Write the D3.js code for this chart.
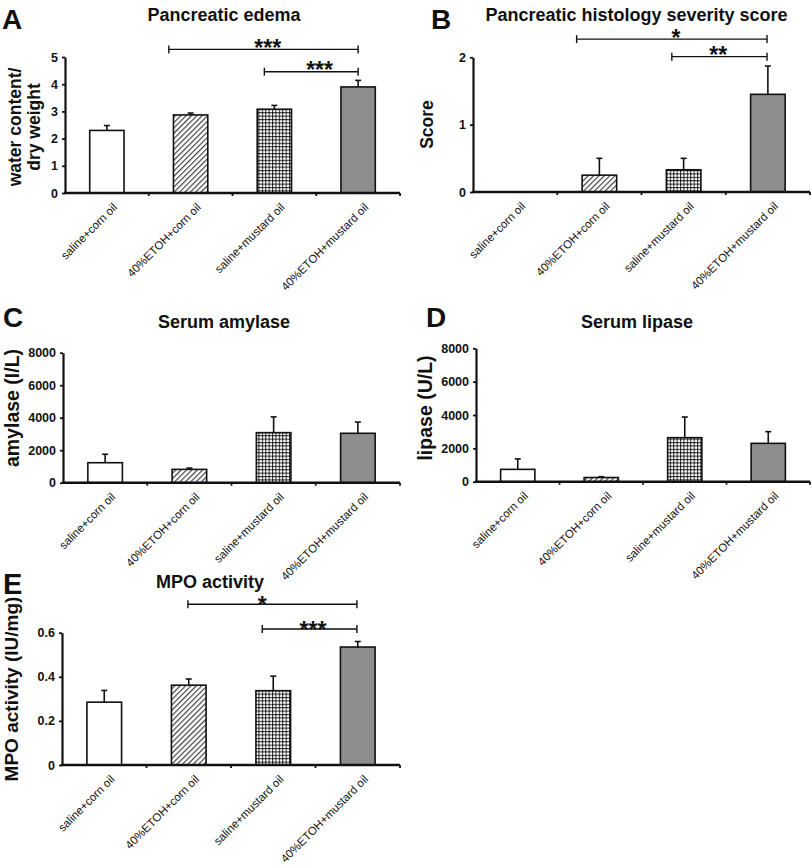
<!DOCTYPE html>
<html>
<head>
<meta charset="utf-8">
<script src="https://cdn.jsdelivr.net/npm/d3@7"></script>
<style>
  html, body { margin: 0; padding: 0; background: #fff; }
  svg { display: block; font-family: "Liberation Sans", Arial, Helvetica, sans-serif; }
</style>
</head>
<body>
<svg id="chart" width="812" height="866"></svg>
<script>
// ---------- DATA ----------
const categories = ["saline+corn oil", "40%ETOH+corn oil", "saline+mustard oil", "40%ETOH+mustard oil"];

const edemaMean = [2.30, 2.87, 3.08, 3.90];
const edemaErr  = [0.18, 0.07, 0.14, 0.24];
const edemaTicks = [0, 1, 2, 3, 4, 5];

const histMean = [0, 0.25, 0.33, 1.45];
const histErr  = [0, 0.25, 0.17, 0.42];
const histTicks = [0, 1, 2];

const amylaseMean = [1230, 820, 3080, 3040];
const amylaseErr  = [520, 80, 970, 690];
const amylaseTicks = [0, 2000, 4000, 6000, 8000];

const lipaseMean = [740, 250, 2640, 2300];
const lipaseErr  = [630, 50, 1240, 700];
const lipaseTicks = [0, 2000, 4000, 6000, 8000];

const mpoMean = [0.285, 0.362, 0.337, 0.535];
const mpoErr  = [0.053, 0.028, 0.066, 0.025];
const mpoTicks = [0, 0.2, 0.4, 0.6];

// significance brackets: [from position, to position, level (data units), label, label position] (positions in category units)
const edemaSig = [[1.24, 3.5, 5.28, "***", 2.42], [2.38, 3.5, 4.46, "***", 3.04]];
const histSig  = [[1.23, 3.49, 2.27, "*", 2.41], [2.36, 3.49, 2.01, "**", 2.91]];
const mpoSig   = [[1.49, 3.49, 0.729, "*", 2.37], [2.37, 3.49, 0.617, "***", 2.97]];

// ---------- DRAW ----------
const svg = d3.select("#chart");
const defs = svg.append("defs");

const hatch = defs.append("pattern").attr("id", "hatch")
  .attr("patternUnits", "userSpaceOnUse").attr("width", 3.8).attr("height", 3.8)
  .attr("patternTransform", "rotate(45)");
hatch.append("rect").attr("width", 3.8).attr("height", 3.8).attr("fill", "#fff");
hatch.append("line").attr("x1", 0.6).attr("y1", 0).attr("x2", 0.6).attr("y2", 3.8)
  .attr("stroke", "#333").attr("stroke-width", 1.1);

const grid = defs.append("pattern").attr("id", "grid")
  .attr("patternUnits", "userSpaceOnUse").attr("width", 3.4).attr("height", 3.4);
grid.append("rect").attr("width", 3.4).attr("height", 3.4).attr("fill", "#fff");
grid.append("rect").attr("x", 0).attr("y", 0).attr("width", 3.4).attr("height", 1.0).attr("fill", "#333");
grid.append("rect").attr("x", 0).attr("y", 0).attr("width", 1.0).attr("height", 3.4).attr("fill", "#333");
grid.append("rect").attr("x", -0.3).attr("y", -0.3).attr("width", 1.6).attr("height", 1.6).attr("fill", "#000");

const fills = ["#ffffff", "url(#hatch)", "url(#grid)", "#8e8e8e"];

function panel(cfg) {
  const g = svg.append("g");
  const x = d3.scaleBand().domain(categories).range([cfg.left, cfg.right]).padding(0);
  const xPos = d3.scaleLinear().domain([0, categories.length]).range([cfg.left, cfg.right]);
  const y = d3.scaleLinear().domain([0, cfg.ticks[cfg.ticks.length - 1]]).range([cfg.bottom, cfg.top]);
  const bw = x.bandwidth() * 0.41;

  const rows = categories.map((c, i) => ({ c, i, m: cfg.mean[i], e: cfg.err[i] }));

  // bars
  g.selectAll("rect.bar").data(rows.filter(d => d.m > 0)).join("rect")
    .attr("class", "bar")
    .attr("x", d => x(d.c) + x.bandwidth() / 2 - bw / 2)
    .attr("y", d => y(d.m))
    .attr("width", bw)
    .attr("height", d => y(0) - y(d.m))
    .attr("fill", d => fills[d.i])
    .attr("stroke", "#111").attr("stroke-width", 1.6);

  // error bars
  const eb = rows.filter(d => d.e > 0);
  g.selectAll("line.err").data(eb).join("line")
    .attr("x1", d => x(d.c) + x.bandwidth() / 2).attr("x2", d => x(d.c) + x.bandwidth() / 2)
    .attr("y1", d => y(d.m)).attr("y2", d => y(d.m + d.e))
    .attr("stroke", "#111").attr("stroke-width", 1.6);
  g.selectAll("line.cap").data(eb).join("line")
    .attr("x1", d => x(d.c) + x.bandwidth() / 2 - 3).attr("x2", d => x(d.c) + x.bandwidth() / 2 + 3)
    .attr("y1", d => y(d.m + d.e)).attr("y2", d => y(d.m + d.e))
    .attr("stroke", "#111").attr("stroke-width", 1.6);

  // y axis
  const yAxis = d3.axisLeft(y).tickValues(cfg.ticks).tickFormat(d => String(d)).tickSizeInner(3).tickSizeOuter(0).tickPadding(4);
  const ya = g.append("g").attr("transform", `translate(${cfg.left},0)`).call(yAxis);
  ya.select(".domain").attr("stroke", "#111").attr("stroke-width", 2.2);
  ya.selectAll(".tick line").attr("stroke", "#111").attr("stroke-width", 1.8);
  ya.selectAll(".tick text").attr("font-size", 12.5).attr("font-weight", "bold").attr("fill", "#111")
    .attr("font-family", "'Liberation Sans', Arial, sans-serif");

  // x axis
  const bounds = d3.range(1, categories.length + 1).map(k => xPos(k));
  g.selectAll("line.xt").data(bounds).join("line")
    .attr("x1", d => d).attr("x2", d => d).attr("y1", cfg.bottom).attr("y2", cfg.bottom + 3)
    .attr("stroke", "#111").attr("stroke-width", 1.8);
  g.append("line").attr("x1", cfg.left - 1).attr("x2", cfg.right).attr("y1", cfg.bottom).attr("y2", cfg.bottom)
    .attr("stroke", "#111").attr("stroke-width", 2.6);

  // x labels
  g.selectAll("text.xl").data(categories).join("text")
    .attr("transform", d => `translate(${x(d) + x.bandwidth() / 2 + 11},${cfg.bottom + 15}) rotate(-45)`)
    .attr("text-anchor", "end")
    .attr("font-size", 11.5).attr("fill", "#111")
    .text(d => d);

  // significance brackets
  (cfg.sig || []).forEach(s => {
    const x1 = xPos(s[0]), x2 = xPos(s[1]), yy = y(s[2]);
    g.append("line").attr("x1", x1).attr("x2", x2).attr("y1", yy).attr("y2", yy)
      .attr("stroke", "#111").attr("stroke-width", 1.4);
    [x1, x2].forEach(xx => g.append("line").attr("x1", xx).attr("x2", xx).attr("y1", yy - 4).attr("y2", yy + 4)
      .attr("stroke", "#111").attr("stroke-width", 1.4));
    g.append("text").attr("x", xPos(s[4])).attr("y", yy + cfg.starDy)
      .attr("text-anchor", "middle").attr("font-size", 23).attr("font-weight", "bold").attr("fill", "#111")
      .text(s[3]);
  });

  // title
  g.append("text").attr("x", cfg.titleX).attr("y", cfg.titleY).attr("text-anchor", "middle")
    .attr("font-size", 18).attr("font-weight", "bold").attr("fill", "#111").text(cfg.title);
  // panel letter
  g.append("text").attr("x", cfg.letterX).attr("y", cfg.letterY)
    .attr("font-size", cfg.letterSize).attr("font-weight", "bold").attr("fill", "#111").text(cfg.letter);
  // y label
  cfg.ylabel.forEach((t, k) => {
    g.append("text").attr("transform", `translate(${cfg.ylabX[k]},${cfg.ylabY}) rotate(-90)`)
      .attr("text-anchor", "middle").attr("font-size", cfg.ylabSize).attr("font-weight", "bold").attr("fill", "#111")
      .text(t);
  });
}

panel({ left: 65, right: 400, top: 57, bottom: 193, ticks: edemaTicks, mean: edemaMean, err: edemaErr, sig: edemaSig,
  starDy: 6.5,
  title: "Pancreatic edema", titleX: 224, titleY: 21, letter: "A", letterX: 2, letterY: 28.5, letterSize: 28,
  ylabel: ["water content/", "dry weight"], ylabX: [21, 39.5], ylabY: 127, ylabSize: 17.5 });

panel({ left: 473, right: 810, top: 57.3, bottom: 192, ticks: histTicks, mean: histMean, err: histErr, sig: histSig,
  starDy: 6.5,
  title: "Pancreatic histology severity score", titleX: 636.5, titleY: 21, letter: "B", letterX: 431, letterY: 28.5, letterSize: 28,
  ylabel: ["Score"], ylabX: [433], ylabY: 124.5, ylabSize: 17.5 });

panel({ left: 63, right: 400, top: 352.7, bottom: 482.7, ticks: amylaseTicks, mean: amylaseMean, err: amylaseErr,
  starDy: 6.5,
  title: "Serum amylase", titleX: 224, titleY: 328, letter: "C", letterX: 3, letterY: 327, letterSize: 28,
  ylabel: ["amylase (I/L)"], ylabX: [18.5], ylabY: 408, ylabSize: 19.5 });

panel({ left: 476, right: 810, top: 348.3, bottom: 481.7, ticks: lipaseTicks, mean: lipaseMean, err: lipaseErr,
  starDy: 6.5,
  title: "Serum lipase", titleX: 637, titleY: 328, letter: "D", letterX: 426, letterY: 327, letterSize: 28,
  ylabel: ["lipase (U/L)"], ylabX: [431.5], ylabY: 408, ylabSize: 19.5 });

panel({ left: 62, right: 400, top: 632.7, bottom: 765, ticks: mpoTicks, mean: mpoMean, err: mpoErr, sig: mpoSig,
  starDy: 9,
  title: "MPO activity", titleX: 210, titleY: 588, letter: "E", letterX: 3, letterY: 594, letterSize: 29,
  ylabel: ["MPO activity (IU/mg)"], ylabX: [18], ylabY: 689, ylabSize: 19 });
</script>
</body>
</html>
